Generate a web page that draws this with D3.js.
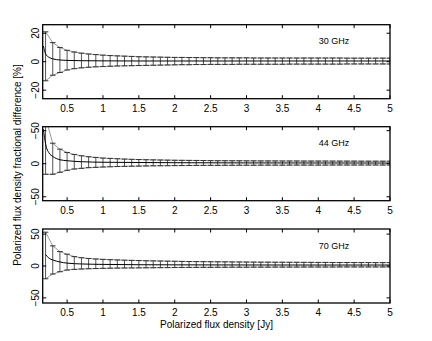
<!DOCTYPE html>
<html><head><meta charset="utf-8">
<script src="https://cdn.jsdelivr.net/npm/d3@7"></script>
<style>body{margin:0;background:#fff}svg{display:block}text{font-family:"Liberation Sans",Arial,sans-serif}</style>
</head><body>
<script>
// ---- data ----
const fluxPoints = [0.2,0.3,0.4,0.5,0.6,0.7,0.8,0.9,1.0,1.1,1.2,1.3,1.4,1.5,1.6,1.7,1.8,1.9,2.0,2.1,2.2,2.3,2.4,2.5,2.6,2.7,2.8,2.9,3.0,3.1,3.2,3.3,3.4,3.5,3.6,3.7,3.8,3.9,4.0,4.1,4.2,4.3,4.4,4.5,4.6,4.7,4.8,4.9,5.0];
const xTicks = [0.5,1,1.5,2,2.5,3,3.5,4,4.5,5];
const xTickLabels = ["0.5","1","1.5","2","2.5","3","3.5","4","4.5","5"];
const panelNames = ["30 GHz","44 GHz","70 GHz"];
const yDomains = [26,56,58];
const yTicks = [[-20,0,20],[-50,0,50],[-50,0,50]];
const yTickLabels = [["\u221220","0","20"],["\u221250","0","\u221250"],["\u221250","0","50"]];

// 30 GHz
const upper30 = [21,13.4,10,8,6.8,6.0,5.4,5.0,4.6,4.3,4.1,3.9,3.7,3.5,3.4,3.3,3.2,3.1,3.0,3.0,2.9,2.9,2.8,2.8,2.7,2.7,2.7,2.7,2.7,2.6,2.6,2.6,2.6,2.6,2.6,2.6,2.6,2.6,2.6,2.6,2.6,2.6,2.5,2.5,2.5,2.5,2.5,2.5,2.5];
const lower30 = [-13.4,-9.5,-7.6,-5.8,-4.9,-4.3,-3.9,-3.6,-3.4,-3.2,-3.0,-2.9,-2.8,-2.7,-2.6,-2.5,-2.4,-2.3,-2.2,-2.1,-2.1,-2.0,-2.0,-1.9,-1.9,-1.9,-1.9,-1.8,-1.8,-1.8,-1.8,-1.8,-1.8,-1.8,-1.7,-1.7,-1.7,-1.7,-1.7,-1.7,-1.7,-1.7,-1.6,-1.6,-1.6,-1.6,-1.6,-1.6,-1.6];
const curveX30 = [0.17,0.2,0.25,0.3,0.4,0.5,0.7,1.0,1.5,2.0,3.0,4.0,5.0];
const curveY30 = [11,5.5,3,2,1.2,0.9,0.7,0.6,0.5,0.5,0.5,0.5,0.5];
// 44 GHz
const upper44 = [70,31,22,17,14,12,10.5,9.5,8.5,8,7.5,7,6.6,6.3,6.0,5.8,5.6,5.4,5.2,5.1,5.0,4.9,4.8,4.6,4.5,4.5,4.4,4.4,4.3,4.3,4.2,4.2,4.2,4.1,4.1,4.1,4.0,4.0,4.0,4.0,3.9,3.9,3.9,3.9,3.8,3.8,3.8,3.8,3.8];
const lower44 = [-16,-16,-13,-10,-8,-7,-6,-5.5,-5,-4.6,-4.3,-4,-3.8,-3.6,-3.4,-3.2,-3.1,-3.0,-2.9,-2.8,-2.7,-2.6,-2.6,-2.5,-2.5,-2.4,-2.4,-2.3,-2.3,-2.3,-2.2,-2.2,-2.2,-2.2,-2.1,-2.1,-2.1,-2.1,-2.1,-2.1,-2.0,-2.0,-2.0,-2.0,-2.0,-2.0,-2.0,-2.0,-2.0];
const curveX44 = [0.17,0.2,0.25,0.3,0.4,0.5,0.7,1.0,1.5,2.0,3.0,4.0,5.0];
const curveY44 = [52,30,16,11,6,4.5,3,2.2,1.8,1.5,1.2,1.1,1.0];
// 70 GHz
const upper70 = [53,31.6,22.6,18.5,14.7,13,11.8,11,10.4,9.9,9.5,9.1,8.8,8.5,8.2,8.0,7.8,7.6,7.4,7.2,7.0,6.9,6.8,6.7,6.6,6.5,6.4,6.3,6.2,6.1,6.0,6.0,5.9,5.9,5.8,5.8,5.7,5.7,5.6,5.6,5.5,5.5,5.5,5.4,5.4,5.4,5.3,5.3,5.3];
const lower70 = [-20,-12.6,-9,-6.3,-5.3,-4.7,-4.3,-4.0,-3.7,-3.5,-3.3,-3.1,-3.0,-2.9,-2.8,-2.7,-2.6,-2.5,-2.4,-2.3,-2.2,-2.2,-2.1,-2.1,-2.0,-2.0,-1.9,-1.9,-1.9,-1.8,-1.8,-1.8,-1.7,-1.7,-1.7,-1.7,-1.6,-1.6,-1.6,-1.6,-1.6,-1.5,-1.5,-1.5,-1.5,-1.5,-1.5,-1.5,-1.5];
const curveX70 = [0.2,0.25,0.3,0.4,0.5,0.7,1.0,1.5,2.0,3.0,4.0,5.0];
const curveY70 = [18,12,9.5,6.3,4.5,3.2,2.5,2.0,1.8,1.6,1.5,1.5];

const uppers = [upper30, upper44, upper70];
const lowers = [lower30, lower44, lower70];
const curveXs = [curveX30, curveX44, curveX70];
const curveYs = [curveY30, curveY44, curveY70];

// ---- layout ----
const W = 432, H = 341;
const left = 42.7, right = 390, panelH = 74;
const tops = [24.7, 126.7, 229];

const svg = d3.select("body").append("svg").attr("width", W).attr("height", H);
const x = d3.scaleLinear().domain([0.16, 5]).range([left, right]);

tops.forEach((top, p) => {
  const y = d3.scaleLinear().domain([-yDomains[p], yDomains[p]]).range([top + panelH, top]);
  const g = svg.append("g");
  const clipId = "clip" + p;
  svg.append("clipPath").attr("id", clipId).append("rect")
    .attr("x", left).attr("y", top).attr("width", right - left).attr("height", panelH);
  const plot = g.append("g").attr("clip-path", `url(#${clipId})`);

  const up = uppers[p], lo = lowers[p];
  // envelopes
  const envU = d3.line().x((d, i) => x(fluxPoints[i])).y(d => y(d));
  plot.append("path").attr("d", envU(up)).attr("fill", "none").attr("stroke", "#9a9a9a").attr("stroke-width", 1);
  plot.append("path").attr("d", envU(lo)).attr("fill", "none").attr("stroke", "#9a9a9a").attr("stroke-width", 1);
  // error bars
  fluxPoints.forEach((fx, i) => {
    const cx = x(fx);
    plot.append("line").attr("x1", cx).attr("x2", cx).attr("y1", y(up[i])).attr("y2", y(lo[i]))
      .attr("stroke", "#555").attr("stroke-width", 1);
    [up[i], lo[i]].forEach(v => {
      plot.append("line").attr("x1", cx - 2.8).attr("x2", cx + 2.8).attr("y1", y(v)).attr("y2", y(v))
        .attr("stroke", "#333").attr("stroke-width", 1);
    });
  });
  // centre curve
  const cl = d3.line().curve(d3.curveMonotoneX).x((d, i) => x(curveXs[p][i])).y(d => y(d));
  plot.append("path").attr("d", cl(curveYs[p])).attr("fill", "none").attr("stroke", "#000").attr("stroke-width", 1);

  // frame
  g.append("rect").attr("x", left).attr("y", top).attr("width", right - left).attr("height", panelH)
    .attr("fill", "none").attr("stroke", "#000").attr("stroke-width", 1.3);

  // x ticks (inside, top and bottom)
  xTicks.forEach((t, i) => {
    const tx = x(t);
    g.append("line").attr("x1", tx).attr("x2", tx).attr("y1", top + panelH).attr("y2", top + panelH - 3.5).attr("stroke", "#000");
    g.append("line").attr("x1", tx).attr("x2", tx).attr("y1", top).attr("y2", top + 3.5).attr("stroke", "#000");
    g.append("text").attr("x", tx).attr("y", top + panelH + 12.8).attr("text-anchor", "middle")
      .attr("font-size", 10).text(xTickLabels[i]);
  });
  // y ticks
  yTicks[p].forEach((t, i) => {
    const ty = y(t);
    g.append("line").attr("x1", left).attr("x2", left + 3.5).attr("y1", ty).attr("y2", ty).attr("stroke", "#000");
    g.append("line").attr("x1", right).attr("x2", right - 3.5).attr("y1", ty).attr("y2", ty).attr("stroke", "#000");
    g.append("text").attr("transform", `translate(39,${ty}) rotate(-90)`).attr("text-anchor", "middle")
      .attr("font-size", 10).text(yTickLabels[p][i]);
  });
  // panel label
  g.append("text").attr("x", 318.7).attr("y", top + 19.5).attr("font-size", 9).text(panelNames[p]);
});

svg.append("text").attr("x", 216.5).attr("y", 327.5).attr("text-anchor", "middle").attr("font-size", 10)
  .text("Polarized flux density [Jy]");
svg.append("text").attr("transform", "translate(21,165) rotate(-90)").attr("text-anchor", "middle").attr("font-size", 10)
  .text("Polarized flux density fractional difference [%]");
</script>
</body></html>
